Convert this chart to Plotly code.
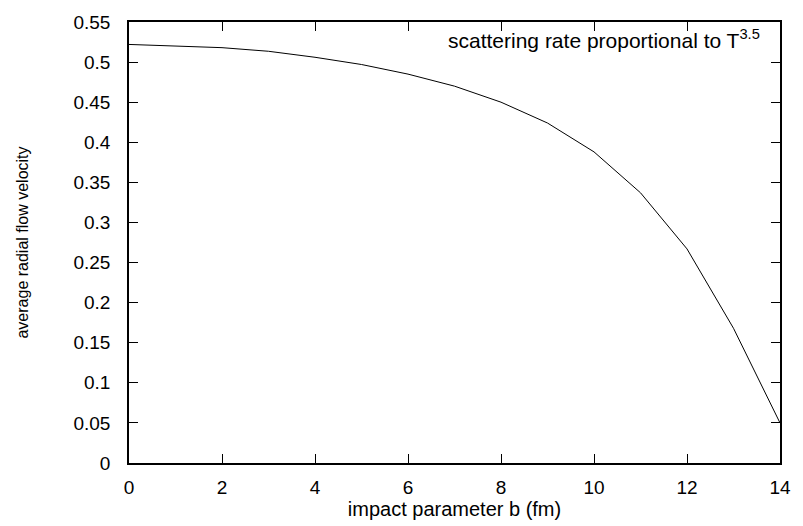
import plotly.graph_objects as go

b_fm = [0, 1, 2, 3, 4, 5, 6, 7, 8, 9, 10, 11, 12, 13, 14]
flow_velocity = [0.522, 0.520, 0.518, 0.5135, 0.506, 0.497, 0.485, 0.470, 0.450, 0.424,
                 0.388, 0.337, 0.267, 0.168, 0.050]

x_ticks = [0, 2, 4, 6, 8, 10, 12, 14]
y_ticks = [0, 0.05, 0.1, 0.15, 0.2, 0.25, 0.3, 0.35, 0.4, 0.45, 0.5, 0.55]
y_ticklabels = ["0", "0.05", "0.1", "0.15", "0.2", "0.25", "0.3", "0.35", "0.4", "0.45", "0.5", "0.55"]

FONT = "Liberation Sans, Arial, Helvetica, sans-serif"

fig = go.Figure()
fig.add_trace(go.Scatter(x=b_fm, y=flow_velocity, mode="lines",
                         line=dict(color="black", width=1), showlegend=False,
                         hoverinfo="skip"))

axis_common = dict(showline=True, linecolor="black", linewidth=1.5, mirror="ticks",
                   ticks="inside", tickcolor="black", tickwidth=1.2, ticklen=9,
                   showgrid=False, zeroline=False,
                   tickfont=dict(family=FONT, size=19, color="black"))

fig.update_xaxes(range=[0, 14], tickvals=x_ticks, ticklabelstandoff=6,
                 title=dict(text="impact parameter b (fm)", font=dict(family=FONT, size=20, color="black"),
                            standoff=2),
                 **axis_common)
fig.update_yaxes(range=[0, 0.55], tickvals=y_ticks, ticktext=y_ticklabels, ticklabelstandoff=13,
                 title=dict(text="average radial flow velocity", font=dict(family=FONT, size=16, color="black"),
                            standoff=41),
                 **axis_common)

fig.add_annotation(text="scattering rate proportional to T<sup>3.5</sup>",
                   xref="paper", yref="paper", x=0.972, y=0.962,
                   xanchor="right", yanchor="middle", showarrow=False,
                   font=dict(family=FONT, size=21, color="black"))

fig.update_layout(width=803, height=526, margin=dict(l=129, r=14, t=13, b=57),
                  paper_bgcolor="white", plot_bgcolor="white")

fig.write_html("out.html")
